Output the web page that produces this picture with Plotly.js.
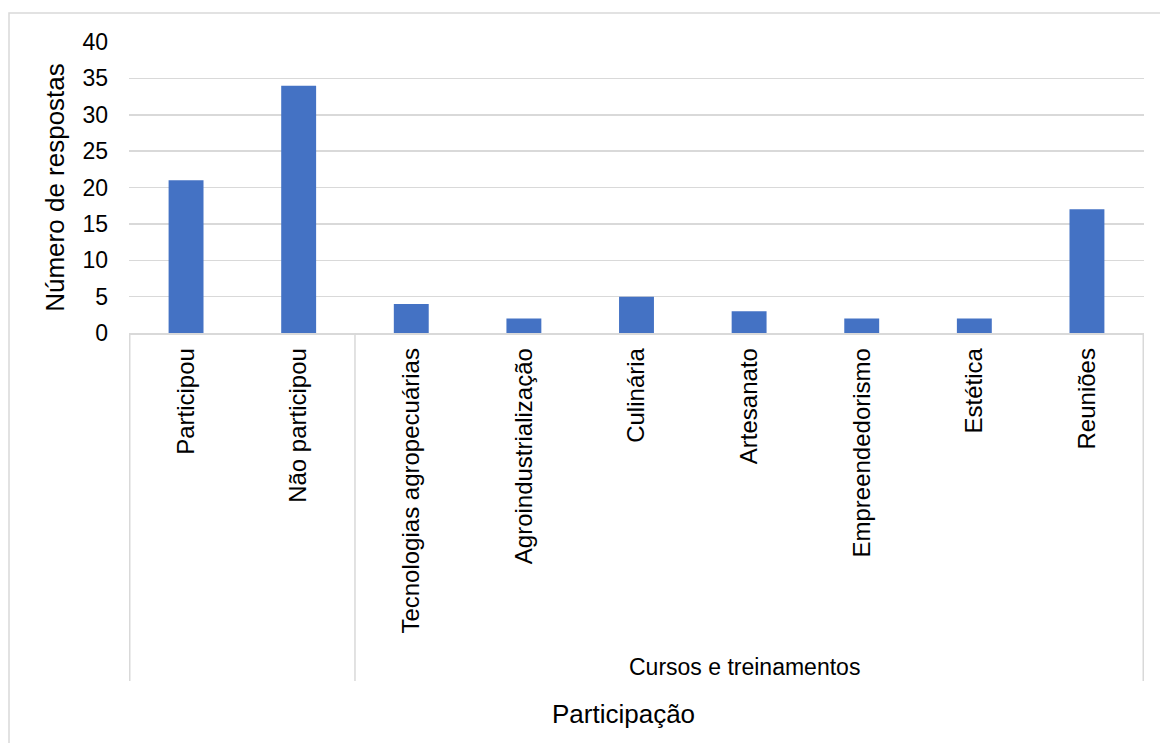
<!DOCTYPE html>
<html>
<head>
<meta charset="utf-8">
<script src="https://cdn.plot.ly/plotly-3.0.1.min.js"></script>
<style>html,body{margin:0;padding:0;background:#fff;}#chart{width:1160px;height:743px;}</style>
</head>
<body>
<div id="chart"></div>
<script>
const categories = ['Participou', 'Não participou', 'Tecnologias agropecuárias', 'Agroindustrialização', 'Culinária', 'Artesanato', 'Empreendedorismo', 'Estética', 'Reuniões'];
const values = [21, 34, 4, 2, 5, 3, 2, 2, 17];
const groupLabels = ['', 'Cursos e treinamentos'];
const groupSizes = [2, 7];
const yTickValues = [0, 5, 10, 15, 20, 25, 30, 35, 40];
const xTitle = 'Participação';
const yTitle = 'Número de respostas';

const W = 1160, H = 743;
const m = {l: 129, r: 16, t: 42, b: 410};
const pw = W - m.l - m.r, ph = H - m.t - m.b;
const px = x => (x - m.l) / pw;
const py = y => (H - m.b - y) / ph;

const grid = '#d9d9d9';
const font = 'Liberation Sans, Arial, sans-serif';

const shapes = [];
const annotations = [];
// group dividers and labels
let start = -0.5;
shapes.push({type: 'line', xref: 'x', yref: 'paper', x0: start, x1: start, y0: 0, y1: py(681), line: {color: grid, width: 1.5}});
groupSizes.forEach((n, i) => {
  const end = start + n;
  shapes.push({type: 'line', xref: 'x', yref: 'paper', x0: end, x1: end, y0: 0, y1: py(681), line: {color: grid, width: 1.5}});
  if (groupLabels[i]) {
    annotations.push({xref: 'x', yref: 'paper', x: (start + end) / 2, y: py(667), xshift: -5, text: groupLabels[i], showarrow: false,
      xanchor: 'center', yanchor: 'middle', font: {family: font, size: 23, color: '#000'}});
  }
  start = end;
});
// outer chart border
shapes.push({type: 'rect', xref: 'paper', yref: 'paper', x0: px(9), x1: px(1175), y0: py(760), y1: py(13), line: {color: grid, width: 1.5}, fillcolor: 'rgba(0,0,0,0)', layer: 'below'});
annotations.push({xref: 'paper', yref: 'paper', x: px(623), y: py(714), text: xTitle, showarrow: false,
  xanchor: 'center', yanchor: 'middle', font: {family: font, size: 26, color: '#000'}});

Plotly.newPlot('chart', [{
  type: 'bar', x: categories, y: values, marker: {color: '#4472C4'}, hoverinfo: 'x+y'
}], {
  width: W, height: H, margin: m,
  paper_bgcolor: '#fff', plot_bgcolor: '#fff',
  bargap: 0.69,
  showlegend: false,
  font: {family: font, color: '#000'},
  xaxis: {
    type: 'category', tickangle: -90, tickfont: {family: font, size: 24, color: '#000'},
    showline: true, linecolor: grid, linewidth: 1.5, showgrid: false, ticks: '', ticklabelstandoff: 4,
    fixedrange: true
  },
  yaxis: {
    range: [0, 40], tickvals: yTickValues, tickfont: {family: font, size: 23, color: '#000'},
    showgrid: true, gridcolor: grid, gridwidth: 1.5, zeroline: false, showline: false, ticks: '',
    ticklabelstandoff: 20,
    title: {text: yTitle, font: {family: font, size: 26, color: '#000'}, standoff: 10},
    fixedrange: true
  },
  shapes: shapes,
  annotations: annotations
}, {displayModeBar: false, staticPlot: true});
</script>
</body>
</html>
